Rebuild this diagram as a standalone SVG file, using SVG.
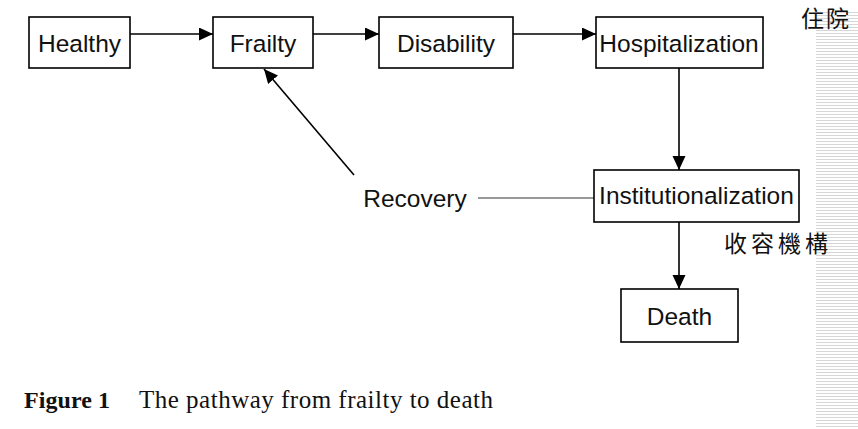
<svg xmlns="http://www.w3.org/2000/svg" width="858" height="429" viewBox="0 0 858 429">
<defs>
<style>
.box{fill:#fff;stroke:#000;stroke-width:1.6}
.lbl{font-family:"Liberation Sans",Arial,sans-serif;font-size:24.5px;fill:#111;text-anchor:middle}
.cjk{font-family:"Noto Sans CJK TC","Noto Sans CJK SC",serif;font-size:23px;fill:#111}
.arr{stroke:#000;stroke-width:1.6;fill:none;marker-end:url(#ah)}
</style>
<marker id="ah" markerUnits="userSpaceOnUse" markerWidth="15" markerHeight="14" refX="14" refY="6.5" orient="auto">
<path d="M0,0 L14,6.5 L0,13 z" fill="#000"/>
</marker>
<pattern id="stripes" x="0" y="0" width="4" height="3" patternUnits="userSpaceOnUse">
<rect x="0" y="0" width="4" height="1" fill="#d6d6d6"/>
</pattern>
</defs>
<rect width="858" height="429" fill="#fff"/>
<rect x="816" y="10" width="42" height="418" fill="url(#stripes)"/>
<g id="connectors">
<line class="arr" x1="130" y1="34" x2="213" y2="34"/>
<line class="arr" x1="313" y1="34" x2="379" y2="34"/>
<line class="arr" x1="513" y1="34" x2="596" y2="34"/>
<line class="arr" x1="679" y1="68" x2="679" y2="170"/>
<line class="arr" x1="679" y1="222" x2="679" y2="289"/>
<line x1="478" y1="198" x2="594" y2="198" stroke="#999" stroke-width="2"/>
<line class="arr" x1="354" y1="175" x2="264" y2="69" stroke="#333"/>
</g>
<g id="healthy"><rect class="box" x="29" y="17" width="101" height="51"/><text class="lbl" x="79.5" y="52">Healthy</text></g>
<g id="frailty"><rect class="box" x="213" y="17" width="100" height="51"/><text class="lbl" x="263" y="52">Frailty</text></g>
<g id="disability"><rect class="box" x="379" y="17" width="134" height="51"/><text class="lbl" x="446" y="52">Disability</text></g>
<g id="hospitalization"><rect class="box" x="596" y="17" width="167" height="51"/><text class="lbl" x="679" y="52">Hospitalization</text></g>
<g id="institutionalization"><rect class="box" x="594" y="170" width="205" height="52"/><text class="lbl" x="696.5" y="204">Institutionalization</text></g>
<g id="death"><rect class="box" x="621" y="289" width="117" height="53"/><text class="lbl" x="679.5" y="325">Death</text></g>
<g id="recovery"><text class="lbl" x="415" y="207">Recovery</text></g>
<text class="cjk" x="801" y="27" font-size="22" letter-spacing="2">住院</text>
<text class="cjk" x="724" y="252" letter-spacing="4">收容機構</text>
<text x="24" y="408" font-family="Liberation Serif,serif" font-weight="bold" font-size="24" fill="#111" textLength="86">Figure 1</text>
<text x="139" y="408" font-family="Liberation Serif,serif" font-size="25" fill="#111" textLength="354">The pathway from frailty to death</text>
</svg>
